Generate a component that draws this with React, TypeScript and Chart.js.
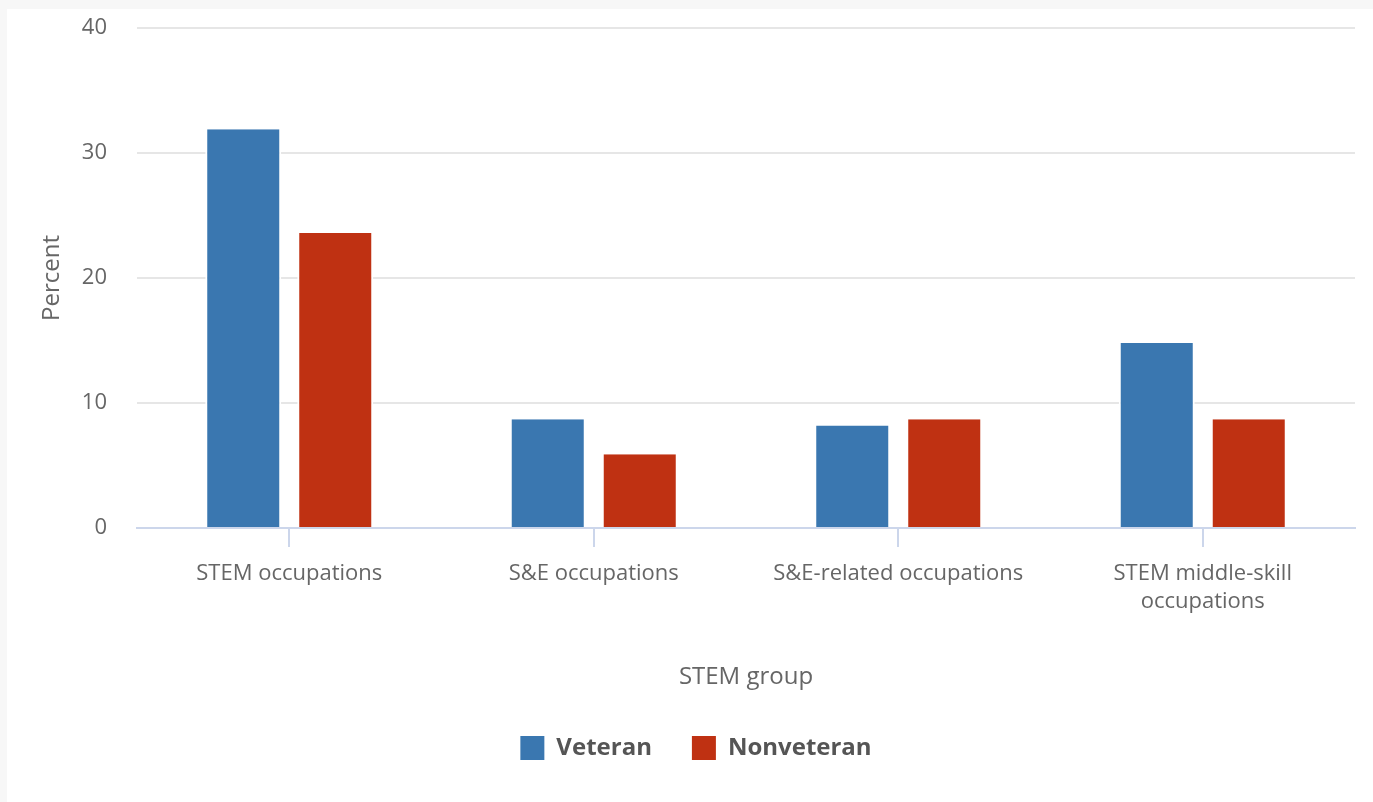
import { useEffect, useRef } from "react";
import { Chart, registerables } from "chart.js";

Chart.register(...registerables);

const categories: (string | string[])[] = [
  "STEM occupations",
  "S&E occupations",
  "S&E-related occupations",
  ["STEM middle-skill", "occupations"],
];
const veteran = [31.9, 8.7, 8.2, 14.8];
const nonveteran = [23.6, 5.9, 8.7, 8.7];
const seriesNames = ["Veteran", "Nonveteran"];
const yMin = 0;
const yMax = 40;
const yStep = 10;
const xTitle = "STEM group";
const yTitle = "Percent";

const FONT = "'Open Sans', 'Noto Sans', sans-serif";

export default function App() {
  const ref = useRef<HTMLCanvasElement | null>(null);

  useEffect(() => {
    if (!ref.current) return;
    const chart = new Chart(ref.current, {
      type: "bar",
      data: {
        labels: categories,
        datasets: [
          {
            label: seriesNames[0],
            data: veteran,
            backgroundColor: "#3a77b0",
            borderColor: "#ffffff",
            borderWidth: { left: 2, right: 2, top: 0, bottom: 0 },
            barPercentage: 76 / 92,
            categoryPercentage: 184 / 304.5,
          },
          {
            label: seriesNames[1],
            data: nonveteran,
            backgroundColor: "#bf3112",
            borderColor: "#ffffff",
            borderWidth: { left: 2, right: 2, top: 0, bottom: 0 },
            barPercentage: 76 / 92,
            categoryPercentage: 184 / 304.5,
          },
        ],
      },
      options: {
        responsive: false,
        animation: false,
        devicePixelRatio: 1,
        layout: { padding: { left: 37, right: 18, top: 28, bottom: 32 } },
        plugins: {
          tooltip: { enabled: false },
          legend: {
            position: "bottom",
            labels: {
              boxWidth: 24,
              boxHeight: 24,
              padding: 40,
              color: "#555555",
              font: { family: FONT, size: 24, weight: "bold" },
              generateLabels: (c: any) =>
                c.data.datasets.map((ds: any, i: number) => ({
                  text: ds.label,
                  fillStyle: ds.backgroundColor,
                  strokeStyle: ds.backgroundColor,
                  lineWidth: 0,
                  hidden: false,
                  datasetIndex: i,
                  fontColor: "#555555",
                })),
            },
          },
        },
        scales: {
          x: {
            afterFit: (s: any) => {
              s.height = 168;
            },
            grid: {
              display: true,
              drawOnChartArea: false,
              drawTicks: true,
              tickLength: 19,
              offset: false,
              color: "#ccd6eb",
              lineWidth: 2,
            },
            border: { display: true, color: "#ccd6eb", width: 2 },
            ticks: {
              padding: 13,
              color: "#666666",
              font: { family: FONT, size: 22, lineHeight: 28 / 22 },
              maxRotation: 0,
              autoSkip: false,
            },
            title: {
              display: true,
              text: xTitle,
              color: "#666666",
              font: { family: FONT, size: 24, lineHeight: 1.2 },
              padding: { top: 0, bottom: 4 },
            },
          },
          y: {
            min: yMin,
            max: yMax,
            afterFit: (s: any) => {
              s.width = 100;
            },
            grid: {
              drawTicks: true,
              tickLength: 28,
              tickColor: "rgba(0,0,0,0)",
              color: (ctx: any) => (ctx.tick && ctx.tick.value === 0 ? "rgba(0,0,0,0)" : "#e6e6e6"),
              lineWidth: 2,
            },
            border: { display: false },
            ticks: {
              stepSize: yStep,
              padding: 2,
              color: "#666666",
              font: { family: FONT, size: 22, lineHeight: 1.2 },
            },
            title: {
              display: true,
              text: yTitle,
              color: "#666666",
              font: { family: FONT, size: 24, lineHeight: 1.2 },
              padding: { top: 1, bottom: 0 },
            },
          },
        },
      },
    });
    return () => chart.destroy();
  }, []);

  return (
    <div
      style={{
        position: "fixed",
        left: 0,
        top: 0,
        width: 1373,
        height: 802,
        background: "#f7f7f7",
        overflow: "hidden",
      }}
    >
      <div
        style={{
          position: "absolute",
          left: 7,
          top: 9,
          right: 0,
          bottom: 0,
          background: "#ffffff",
        }}
      />
      <canvas
        ref={ref}
        width={1373}
        height={802}
        style={{ position: "absolute", left: 0, top: 0, width: 1373, height: 802 }}
      />
    </div>
  );
}
